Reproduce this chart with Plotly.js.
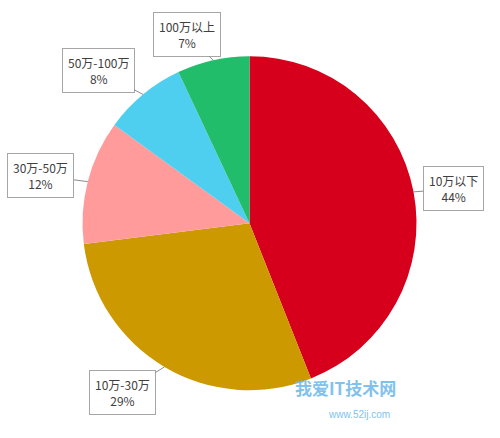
<!DOCTYPE html>
<html><head><meta charset="utf-8">
<script src="https://cdn.plot.ly/plotly-3.0.1.min.js"></script>
<style>html,body{margin:0;padding:0;background:#fff}#chart{width:500px;height:438px}</style>
</head><body><div id="chart"></div>
<script>
const categories = ["10万以下", "10万-30万", "30万-50万", "50万-100万", "100万以上"];
const percents = [44, 29, 12, 8, 7];
const colors = ["#d7001c", "#cc9900", "#ff9b9b", "#4fcfef", "#22bd6b"];

// label box offsets (px) from the slice edge point
const boxOffsets = [[40, -3], [-42, 26], [-47, -6], [-45, -24], [-26, -26]];

const W = 500, H = 438;
const dom = {x: [0.165, 0.833], y: [0.109, 0.872]};
const cx = (dom.x[0] + dom.x[1]) / 2, cy = (dom.y[0] + dom.y[1]) / 2;
const rPx = Math.min((dom.x[1]-dom.x[0]) * W, (dom.y[1]-dom.y[0]) * H) / 2;
const total = percents.reduce((a, b) => a + b, 0);

let cum = 0;
const annotations = categories.map((c, i) => {
  const mid = (cum + percents[i] / 2) / total * 2 * Math.PI;
  cum += percents[i];
  const tx = cx + rPx * Math.sin(mid) / W;
  const ty = cy + rPx * Math.cos(mid) / H;
  return {
    x: tx, y: ty, xref: 'paper', yref: 'paper',
    text: c + '<br>' + percents[i] + '%',
    showarrow: true, arrowhead: 0, arrowwidth: 1, arrowcolor: '#8c8c8c',
    ax: boxOffsets[i][0], ay: boxOffsets[i][1],
    bordercolor: '#a6a6a6', borderwidth: 1, borderpad: 5, bgcolor: '#ffffff',
    font: {family: 'Noto Sans CJK SC, sans-serif', size: 12, color: '#404040'},
    align: 'center'
  };
});

annotations.push({
  x: 398/W, y: 1 - 402/H, xref: 'paper', yref: 'paper', showarrow: false,
  text: '<b>我爱IT技术网</b>', font: {family: 'Noto Sans CJK SC, sans-serif', size: 17, color: '#6ab8ea'}, opacity: 0.85
});
annotations.push({
  x: 392/W, y: 1 - 422/H, xref: 'paper', yref: 'paper', showarrow: false,
  text: 'www.52ij.com', font: {family: 'Liberation Sans, sans-serif', size: 10, color: '#6ab8ea'}, opacity: 0.85
});

Plotly.newPlot('chart', [{
  type: 'pie',
  labels: categories,
  values: percents,
  marker: {colors: colors, line: {width: 0}},
  sort: false,
  direction: 'clockwise',
  rotation: 0,
  textinfo: 'none',
  hoverinfo: 'none',
  domain: dom
}], {
  width: W, height: H,
  margin: {l: 0, r: 0, t: 0, b: 0},
  showlegend: false,
  paper_bgcolor: '#ffffff',
  annotations: annotations
}, {displayModeBar: false, staticPlot: true});
</script></body></html>
